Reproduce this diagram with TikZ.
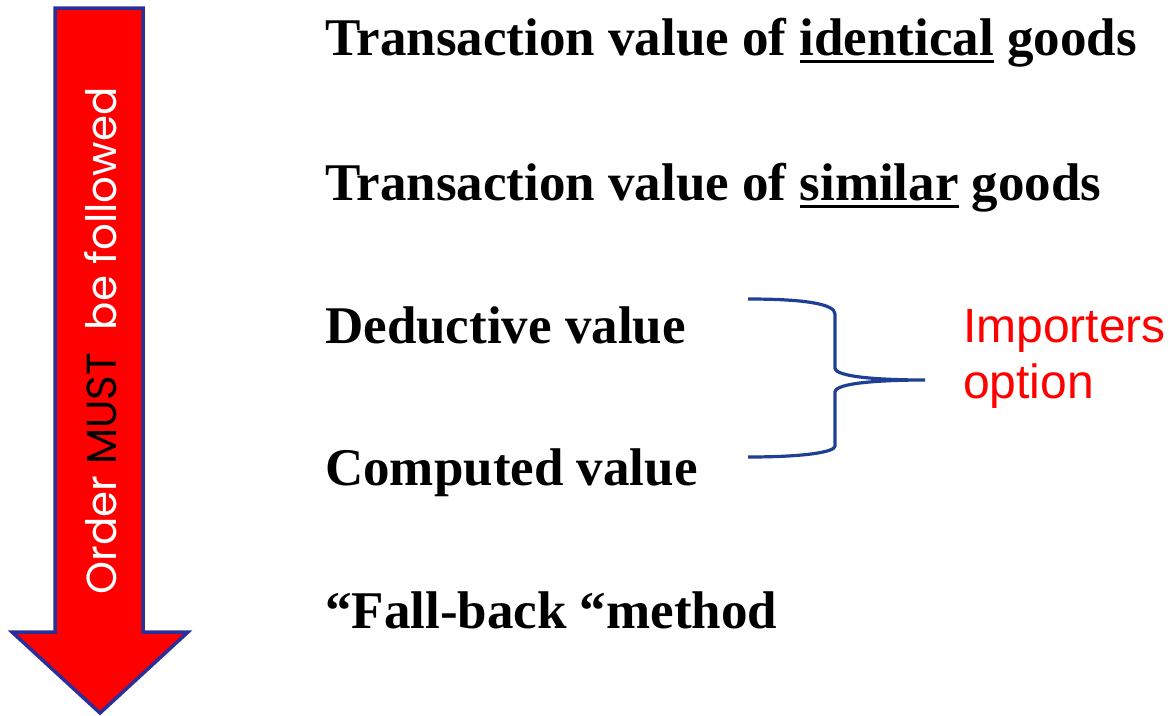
\documentclass[tikz,border=0pt]{standalone}
\usepackage{fontspec}
\setmainfont{Liberation Serif}
\newfontfamily\arialfont{Liberation Sans}
\newfontfamily\gothicfont{Poppins}
\usetikzlibrary{positioning}
\definecolor{arrowred}{HTML}{FF0000}
\definecolor{arrowblue}{HTML}{2B2F9A}
\definecolor{braceblue}{HTML}{1F3F94}
\newcommand\ulword[1]{\setbox0\hbox{#1}\rlap{\rule[-0.15em]{\wd0}{0.055em}}\box0\relax}

\begin{document}
\begin{tikzpicture}[x=1pt, y=-1pt,
    method/.style={anchor=base west, inner sep=0pt, font=\fontsize{53}{58}\selectfont\bfseries},
    option/.style={anchor=base west, inner sep=0pt, align=left, text=arrowred,
        font=\arialfont\fontsize{48}{56}\selectfont}]
        \useasboundingbox (0,0) rectangle (1169,715);
        % Big arrow
        \draw [line width=3.5pt, arrowblue, fill=arrowred, line join=miter]
            (55,8) -- (143,8) -- (143,632) -- (188,632) -- (100,713)
            -- (12,632) -- (55,632) -- cycle;
        % Text inside the arrow
        \node (order) [rotate=90, inner sep=0pt, text=white,
            font=\gothicfont\fontsize{42}{46}\selectfont] at (101,341)
            {Order \textcolor{black}{MUST} \ be followed};
        % Methods, top to bottom
        \node (identical) [method] at (325,55)
            {Transaction value of \ulword{identical} goods};
        \node (similar) [method] at (325,200)
            {Transaction value of \ulword{similar} goods};
        \node (deductive) [method] at (325,343) {Deductive value};
        \node (computed) [method] at (325,485) {Computed value};
        \node (fallback) [method] at (325,628) {``Fall-back ``method};
        % Brace
        \draw [braceblue, line width=3.2pt]
            (748,299) .. controls (805,299) and (835,304) .. (835,314)
            -- (835,368) .. controls (835,377) and (880,380) .. (925,380)
            .. controls (880,380) and (835,383) .. (835,392)
            -- (835,446) .. controls (835,452) and (805,457) .. (748,457);
        % Label of the brace
        \node (importers) [option] at (963,398) {Importers\\option};
\end{tikzpicture}
\end{document}
